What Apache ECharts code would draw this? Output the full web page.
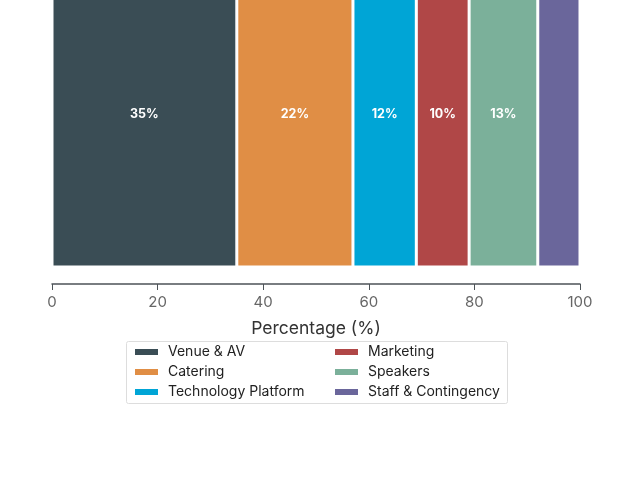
<!DOCTYPE html>
<head>
    <meta charset="utf-8">
    <title>Budget split</title>
</head>
<body style="margin:0;overflow:hidden">
    <!-- the bar runs off the top edge, so the chart box starts above the page -->
    <div id="main" style="position:absolute;left:0;top:-56px;width:640px;height:536px"></div>
    <script src="https://cdn.jsdelivr.net/npm/echarts@6/dist/echarts.min.js"></script>
    <script type="text/javascript">
        // data
        var categories = ['Budget'];
        var seriesNames = ['Venue & AV', 'Catering', 'Technology Platform', 'Marketing', 'Speakers', 'Staff & Contingency'];
        var seriesValues = [35, 22, 12, 10, 13, 8];
        var showLabel = [true, true, true, true, true, false];
        var colors = ['#3a4d55', '#e08e45', '#00a5d6', '#b04747', '#7bb09a', '#6a669b'];
        var xTicks = [0, 20, 40, 60, 80, 100];

        var myChart = echarts.init(document.getElementById('main'));

        var series = seriesNames.map(function (name, i) {
            return {
                name: name,
                type: 'bar',
                stack: 'total',
                barWidth: '90%',
                data: [seriesValues[i]],
                itemStyle: { color: colors[i], borderColor: '#ffffff', borderWidth: 1.5 },
                label: {
                    show: showLabel[i],
                    position: 'inside',
                    formatter: '{c}%',
                    color: '#ffffff',
                    fontWeight: 'bold',
                    fontSize: 12.5,
                    fontFamily: 'Inter'
                }
            };
        });

        var legendText = { fontSize: 14, color: '#222222', padding: [0, 0, 0, 4] };

        var option = {
            animation: false,
            textStyle: { fontFamily: 'Inter' },
            grid: { left: 52, right: 60, top: 0, bottom: 196 },
            xAxis: {
                type: 'value',
                min: xTicks[0],
                max: xTicks[xTicks.length - 1],
                interval: 20,
                name: 'Percentage (%)',
                nameLocation: 'middle',
                nameGap: 36,
                nameTextStyle: { fontSize: 17.5, color: '#333333' },
                axisLine: { show: true, lineStyle: { color: '#4d5358', width: 1.5 } },
                axisTick: { show: true, length: 6, lineStyle: { color: '#4d5358' } },
                axisLabel: { fontSize: 15, color: '#666666', margin: 11 },
                splitLine: { show: false }
            },
            yAxis: {
                type: 'category',
                data: categories,
                show: false
            },
            legend: [{
                orient: 'vertical',
                left: 133,
                top: 401,
                padding: 0,
                itemWidth: 25,
                itemHeight: 8,
                itemGap: 6,
                icon: 'rect',
                textStyle: legendText,
                data: seriesNames.slice(0, 3)
            }, {
                orient: 'vertical',
                left: 333,
                top: 401,
                padding: 0,
                itemWidth: 25,
                itemHeight: 8,
                itemGap: 6,
                icon: 'rect',
                textStyle: legendText,
                data: seriesNames.slice(3)
            }],
            graphic: [{
                type: 'rect',
                shape: { x: 126.5, y: 397.5, width: 381, height: 62, r: 2 },
                style: { fill: 'none', stroke: '#dddddd', lineWidth: 1 }
            }],
            series: series
        };

        myChart.setOption(option);
    </script>
</body>
